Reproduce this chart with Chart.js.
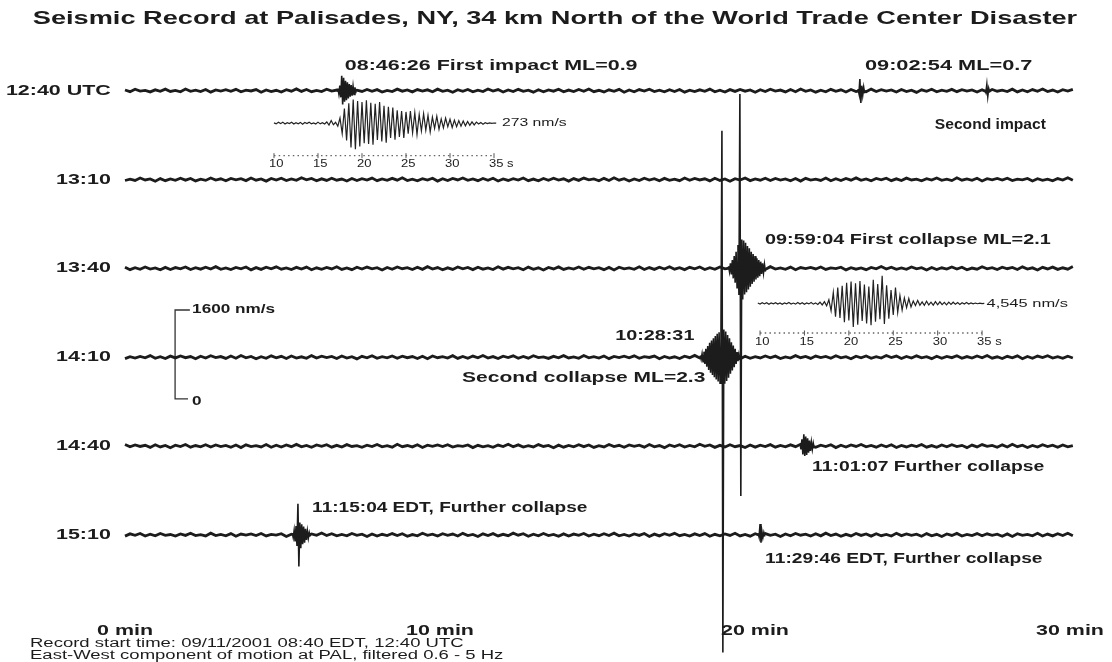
<!DOCTYPE html>
<html>
<head>
<meta charset="utf-8">
<script src="https://cdn.jsdelivr.net/npm/chart.js@4.4.1/dist/chart.umd.min.js"></script>
<style>
  html, body { margin: 0; padding: 0; background: #fff; }
  canvas { display: block; }
</style>
</head>
<body>
<canvas id="seis" width="1112" height="662"></canvas>
<script>
// traces: one row every 30 minutes, 1600 nm/s apart (same as the scale bar)
const rowLabels = ['12:40 UTC', '13:10', '13:40', '14:10', '14:40', '15:10'];
const rowStep = 1600;
const minuteTicks = [0, 10, 20, 30];
const traceEnd = 30.25;

// background noise, nm/s, read along the quiet parts of the traces
const noise = [
  12,-18,25,-8,6,-22,15,-10,28,-14, 5,-20,30,-12,9,-16,22,-26,14,-6,
  18,-11,24,-19,8,-5,20,-28,13,-15, 7,-24,17,-9,32,-13,21,-18,6,-17,
  26,-8,11,-30,16,-21,10,-14,23,-12, 19,-25,5,-16,28,-9,13,-22,20,-7,
  15,-20,27,-13,9,-29,18,-11,22,-19, 10,-15,31,-6,20,-24,12,-17,24,-13,
  8,-27,17,-20,14,-9,25,-21,11,-15, 21,-12,30,-18,7,-23,16,-10,24,-28,
  13,-19,20,-8,27,-15,9,-21,18,-14, 22,-26,10,-17,15,-11,28,-20,8,-24,
  19,-13,23,-9,12,-29,17,-16,26,-7, 11,-22,21,-18,30,-12,14,-27,9,-19,
  24,-10,16,-23,20,-15,7,-21,28,-14, 18,-8,13,-25,22,-17,10,-31,15,-11,
  26,-20,9,-13,23,-18,19,-9,12,-24, 17,-28,21,-10,8,-16,27,-22,14,-19,
  20,-12,29,-15,11,-23,18,-7,24,-21
];

// event wavelets, nm/s, one sample every 0.03 min
const eventStep = 0.03;
const impactOne   = [40,-60,90,-120,270,-250,230,-200,180,-170,150,-140,120,-110,100,-90,80,-70,60,-50];
const impactTwo   = [30,-50,210,-220,90,-80,60,-50];
const impactTick  = [20,-30,110,-100,40,-30];
const collapseOne = [40,-60,90,-110,150,-180,220,-260,300,-350,420,-480,3140,-4100,520,-560,500,-470,460,-430,
                     400,-380,360,-330,300,-280,260,-240,220,-200,180,-170,150,-140,120,-100,90,-80,70,-60];
const collapseTwo = [30,-40,60,-80,100,-120,150,-170,200,-230,260,-280,300,-320,340,-360,380,-400,420,-440,
                     450,-470,480,4080,-5320,500,-480,460,-430,400,-370,340,-300,270,-240,210,-180,150,-120,90,-70,50,-40];
const furtherOne   = [40,-60,120,-150,210,-180,170,-160,140,-120,100,-90,70,-60,50,-40];
const furtherTwo   = [30,-50,80,-120,160,-200,560,-570,220,-240,190,-170,150,-140,110,-90,70,-60,40,-30];
const furtherThree = [30,-40,195,-140,60,-50,40,-30];

// row, start minute, samples
const events = [
  [0, 6.76, impactOne],
  [0, 23.27, impactTwo],
  [0, 27.3, impactTick],
  [2, 19.16, collapseOne],
  [3, 18.26, collapseTwo],
  [4, 21.43, furtherOne],
  [5, 5.31, furtherTwo],
  [5, 20.1, furtherThree],
];

// inset waveforms (seconds), one sample every 0.25 s
const insetStep = 0.25;
const insetTicks = [10, 15, 20, 25, 30, 35];
const firstImpactStart = 10;
const firstImpactWave = [
  4,-8,10,-5,12,-9,6,-4,11,-10, 5,-7,9,-12,8,-5,10,-6,4,-9, 12,-8,6,-10,14,-22,30,-18,10,-35,
  60,-120,170,-200,230,-280,273,-300,255,-270, 245,-230,265,-240,235,-250,225,-195,245,-210,
  200,-225,190,-170,180,-190,150,-160,140,-170, 130,-120,140,-110,120,-130,100,-90,110,-80,
  90,-100,70,-60,80,-70,50,-55,60,-40, 45,-50,35,-40,30,-35,25,-30,20,-25,
  15,-20,12,-10,8,-12,6,-5,4,-3, 2,0
];
const firstCollapseStart = 9.75;
const firstCollapseWave = [
  60,-90,120,-80,100,-140,70,-60,130,-110, 90,-150,80,-70,140,-100,60,-120,150,-90,
  110,-130,70,-80,140,-120,90,-160,200,-250, 300,-400,600,
  -1200,1800,-2200,2600,-2400,2900,-3100,3400,-2800,3600, -3900,3300,-3500,3700,-2900,3100,-3300,2800,-3600,3900,
  -3000,3200,-2600,4545,-3400,3000,-2500,2200,-1900,2600, -1500,1300,-1100,900,-700,800,-600,400,-350,500,
  -300,250,-300,350,-250,200,-280,300,-220,260, -200,180,-240,220,-160,200,-150,130,-180,120,
  -100,150,-90,80,-70,60,-50,40,-30,20
];

const INK = '#1c1c1c';
const datasets = [];

rowLabels.forEach((lab, r) => {
  const n = noise.length;
  datasets.push({
    data: noise.map((_, i) => ({ x: i * traceEnd / (n - 1), y: -rowStep * r + noise[(i + r * 37) % n] })),
    borderColor: INK, borderWidth: 2.8,
  });
});

events.forEach(([r, t0, vals]) => {
  datasets.push({
    data: vals.map((v, i) => ({ x: t0 + i * eventStep, y: -rowStep * r + v })),
    borderColor: INK, borderWidth: 1.6,
  });
});

// 1600 nm/s scale bar
const scaleBarBase = -5550;
datasets.push({
  data: [{ x: 2.06, y: scaleBarBase + 1600 }, { x: 1.59, y: scaleBarBase + 1600 }, { x: 1.59, y: scaleBarBase }, { x: 2.0, y: scaleBarBase }],
  borderColor: '#333', borderWidth: 1.3,
});

// insets
const insetAxisY = { yi1: -375, yi2: -4870 };
[['xi1', 'yi1', firstImpactStart, firstImpactWave], ['xi2', 'yi2', firstCollapseStart, firstCollapseWave]]
  .forEach(([xa, ya, s0, wave]) => {
    datasets.push({
      data: wave.map((v, i) => ({ x: s0 + i * insetStep, y: v })),
      borderColor: '#222', borderWidth: 1.2, xAxisID: xa, yAxisID: ya,
    });
    datasets.push({
      data: [{ x: 10, y: insetAxisY[ya] }, { x: 35, y: insetAxisY[ya] }],
      borderColor: '#666', borderWidth: 1.4, borderDash: [1.5, 3.2], xAxisID: xa, yAxisID: ya,
    });
    datasets.push({
      data: insetTicks.map(t => ({ x: t, y: insetAxisY[ya] })),
      showLine: false, pointStyle: 'line', rotation: 90, pointRadius: 2.5,
      pointBorderColor: '#555', pointBorderWidth: 1, xAxisID: xa, yAxisID: ya,
    });
  });

function put(ctx, text, x, y, font, align, sx) {
  ctx.save();
  ctx.font = font;
  ctx.textAlign = align || 'left';
  ctx.textBaseline = 'middle';
  ctx.fillStyle = INK;
  ctx.translate(x, y);
  ctx.scale(sx, 1);
  ctx.fillText(text, 0, 0);
  ctx.restore();
}

const BOLD = 'bold 15px "Liberation Sans", Arial, sans-serif';
const notes = [
  ['08:46:26 First impact ML=0.9', 6.98, 0, -25, 1.43],
  ['09:02:54 ML=0.7', 23.49, 0, -25, 1.45],
  ['Second impact', 25.71, 0, 34, 1.04],
  ['09:59:04 First collapse ML=2.1', 20.32, 2, -28, 1.32],
  ['10:28:31', 15.56, 3, -21, 1.32],
  ['Second collapse ML=2.3', 10.7, 3, 21, 1.4],
  ['11:01:07 Further collapse', 21.81, 4, 21, 1.29],
  ['11:15:04 EDT, Further collapse', 5.94, 5, -27, 1.27],
  ['11:29:46 EDT, Further collapse', 20.32, 5, 24, 1.28],
];

const textPlugin = {
  id: 'seisText',
  afterDatasetsDraw(chart) {
    const { ctx, scales } = chart;
    const x = scales.x, y = scales.y;
    put(ctx, 'Seismic Record at Palisades, NY, 34 km North of the World Trade Center Disaster',
      555, 19, 'bold 19px "Liberation Sans", Arial, sans-serif', 'center', 1.43);
    rowLabels.forEach((lab, r) => {
      put(ctx, lab, x.getPixelForValue(-0.45), y.getPixelForValue(-rowStep * r), BOLD, 'right', 1.43);
    });
    notes.forEach(([txt, t, r, dy, sx]) => {
      put(ctx, txt, x.getPixelForValue(t), y.getPixelForValue(-rowStep * r) + dy, BOLD, 'left', sx);
    });
    minuteTicks.forEach(m => {
      put(ctx, m + ' min', x.getPixelForValue(m), 631, BOLD, 'center', 1.43);
    });
    const SMALLB = 'bold 12px "Liberation Sans", Arial, sans-serif';
    put(ctx, '1600 nm/s', x.getPixelForValue(2.13), y.getPixelForValue(scaleBarBase + 1600), SMALLB, 'left', 1.43);
    put(ctx, '0', x.getPixelForValue(2.13), y.getPixelForValue(scaleBarBase) + 3, SMALLB, 'left', 1.43);
    put(ctx, '273 nm/s', scales.xi1.getPixelForValue(35.9), scales.yi1.getPixelForValue(0),
      '11px "Liberation Sans", Arial, sans-serif', 'left', 1.43);
    put(ctx, '4,545 nm/s', scales.xi2.getPixelForValue(35.5), scales.yi2.getPixelForValue(0),
      '11.5px "Liberation Sans", Arial, sans-serif', 'left', 1.43);
    [['xi1', 'yi1'], ['xi2', 'yi2']].forEach(([xa, ya]) => {
      insetTicks.forEach((t, i) => {
        const lbl = i === insetTicks.length - 1 ? t + ' s' : String(t);
        put(ctx, lbl, scales[xa].getPixelForValue(t) - 5, scales[ya].getPixelForValue(insetAxisY[ya]) + 9,
          '10px "Liberation Sans", Arial, sans-serif', 'left', 1.3);
      });
    });
    const FOOT = '12.5px "Liberation Sans", Arial, sans-serif';
    put(ctx, 'Record start time: 09/11/2001 08:40 EDT, 12:40 UTC', 30, 644, FOOT, 'left', 1.48);
    put(ctx, 'East-West component of motion at PAL, filtered 0.6 - 5 Hz', 30, 656, FOOT, 'left', 1.48);
  }
};

new Chart(document.getElementById('seis'), {
  type: 'line',
  data: { datasets: datasets.map(d => Object.assign({ pointRadius: 0, tension: 0, fill: false, clip: false }, d)) },
  options: {
    responsive: false,
    animation: false,
    events: [],
    layout: { padding: { left: 125, right: 42, top: 0, bottom: 0 } },
    plugins: { legend: { display: false }, title: { display: false }, tooltip: { enabled: false } },
    scales: {
      x: { type: 'linear', display: false, min: 0, max: 30 },
      y: { type: 'linear', display: false, min: -10200, max: 1543 },
      xi1: { type: 'linear', axis: 'x', display: false, min: -6.93, max: 100.45 },
      yi1: { type: 'linear', axis: 'y', display: false, min: -6165, max: 1365 },
      xi2: { type: 'linear', axis: 'x', display: false, min: -61.5, max: 44.9 },
      yi2: { type: 'linear', axis: 'y', display: false, min: -58270, max: 49180 },
    }
  },
  plugins: [textPlugin]
});
</script>
</body>
</html>
